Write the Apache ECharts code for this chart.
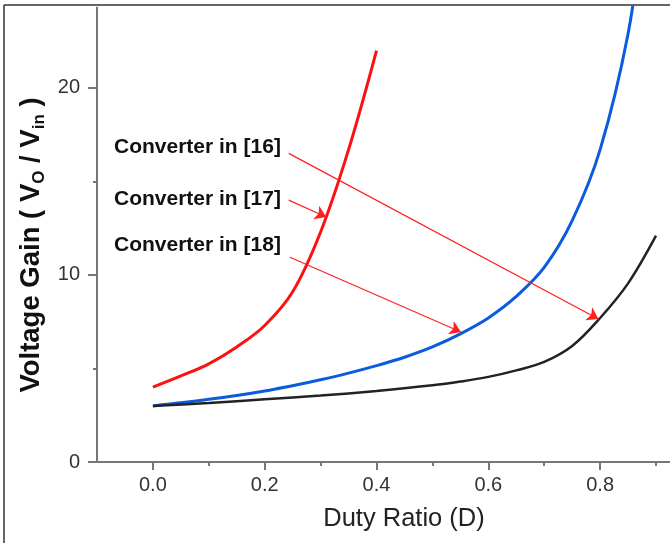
<!DOCTYPE html>
<html>
<head>
<meta charset="utf-8">
<script src="https://cdn.jsdelivr.net/npm/echarts@6/dist/echarts.min.js"></script>
<style>
  html, body { margin: 0; padding: 0; background: #fff; }
  #chart { width: 670px; height: 543px; }
</style>
</head>
<body>
<div id="chart"></div>
<script>
// curves
const dutyRed = [0, 0.05, 0.1, 0.15, 0.2, 0.25, 0.3, 0.35, 0.4];
const gainRed = [4.0, 4.6, 5.25, 6.15, 7.3, 9.1, 12.3, 16.7, 22.0];

const dutyBlue = [0, 0.1, 0.2, 0.3, 0.35, 0.4, 0.45, 0.5, 0.55, 0.6, 0.65, 0.7, 0.75, 0.8, 0.85, 0.875];
const gainBlue = [3.0, 3.35, 3.8, 4.4, 4.75, 5.15, 5.6, 6.15, 6.85, 7.7, 8.85, 10.4, 12.9, 16.7, 22.9, 28.3];

const dutyBlack = [0, 0.1, 0.2, 0.3, 0.4, 0.5, 0.55, 0.6, 0.65, 0.7, 0.75, 0.8, 0.85, 0.9];
const gainBlack = [3.0, 3.15, 3.35, 3.55, 3.8, 4.1, 4.3, 4.55, 4.9, 5.35, 6.2, 7.7, 9.55, 12.1];

// ticks
const xLabels = [0, 0.2, 0.4, 0.6, 0.8];
const xMinor = [0.1, 0.3, 0.5, 0.7, 0.9];
const yLabels = [0, 10, 20];
const yMinor = [5, 15];

// annotation texts and arrows (start -> end, data units)
const noteTexts = ["Converter in [16]", "Converter in [17]", "Converter in [18]"];
const noteStarts = [[0.243, 16.5], [0.243, 14.0], [0.245, 10.95]];
const noteEnds = [[0.797, 7.65], [0.31, 13.1], [0.551, 6.95]];

const font = "'Liberation Sans', Arial, sans-serif";
const xMin = -0.1, xMax = 0.925, yMin = 0, yMax = 24.3;

const chart = echarts.init(document.getElementById("chart"), null, { renderer: "canvas" });

const pairs = (xs, ys) => xs.map((x, i) => [x, ys[i]]);
const axisColor = "#777";

chart.setOption({
  animation: false,
  backgroundColor: "#fff",
  grid: { left: 97, right: 0, top: 7.5, bottom: 81 },
  xAxis: [
    {
      type: "value", min: xMin, max: xMax,
      axisLine: { onZero: false, lineStyle: { color: axisColor, width: 2 } },
      axisTick: { customValues: xLabels, length: 8, lineStyle: { color: axisColor, width: 2 } },
      axisLabel: {
        customValues: xLabels, margin: 13, fontFamily: font, fontSize: 20, color: "#333",
        formatter: (v) => v.toFixed(1),
      },
      splitLine: { show: false },
    },
    {
      type: "value", min: xMin, max: xMax, position: "bottom",
      axisLine: { show: false, onZero: false },
      axisTick: { customValues: xMinor, length: 4, lineStyle: { color: axisColor, width: 2 } },
      axisLabel: { show: false },
      splitLine: { show: false },
    },
  ],
  yAxis: [
    {
      type: "value", min: yMin, max: yMax,
      axisLine: { onZero: false, lineStyle: { color: axisColor, width: 2 } },
      axisTick: { customValues: yLabels, length: 9, lineStyle: { color: axisColor, width: 2 } },
      axisLabel: { customValues: yLabels, margin: 17, fontFamily: font, fontSize: 20, color: "#333" },
      splitLine: { show: false },
    },
    {
      type: "value", min: yMin, max: yMax, position: "left",
      axisLine: { show: false, onZero: false },
      axisTick: { customValues: yMinor, length: 4, lineStyle: { color: axisColor, width: 2 } },
      axisLabel: { show: false },
      splitLine: { show: false },
    },
  ],
  series: [
    {
      name: "Converter in [17]", type: "line", data: pairs(dutyRed, gainRed),
      smooth: 0.35, showSymbol: false, silent: true,
      lineStyle: { color: "#ff1010", width: 3 },
      markLine: {
        silent: true,
        symbol: ["none", "arrow"],
        symbolSize: 11,
        label: { show: false },
        lineStyle: { color: "#ff2020", width: 1.2, type: "solid" },
        data: noteStarts.map((s, i) => [{ coord: s }, { coord: noteEnds[i] }]),
      },
    },
    {
      name: "Converter in [18]", type: "line", data: pairs(dutyBlue, gainBlue),
      smooth: 0.35, showSymbol: false, silent: true,
      lineStyle: { color: "#0a5cdc", width: 3 },
    },
    {
      name: "Converter in [16]", type: "line", data: pairs(dutyBlack, gainBlack),
      smooth: 0.35, showSymbol: false, silent: true,
      lineStyle: { color: "#222", width: 2.5 },
    },
  ],
  graphic: [
    // image frame (left and top edges)
    { type: "line", shape: { x1: 4, y1: 5, x2: 4, y2: 543 }, style: { stroke: "#333", lineWidth: 1.5 } },
    { type: "line", shape: { x1: 4, y1: 5, x2: 670, y2: 5 }, style: { stroke: "#333", lineWidth: 1.5 } },
    // axis titles
    {
      type: "text", x: 404, y: 519,
      style: { text: "Duty Ratio (D)", font: "25.5px " + font, fill: "#222", align: "center", verticalAlign: "middle" },
    },
    {
      type: "text", x: 31, y: 245, rotation: Math.PI / 2,
      style: {
        text: "{b|Voltage Gain ( V}{s|O}{b| / V}{s|in}{b| )}",
        align: "center", verticalAlign: "middle",
        rich: {
          b: { fontFamily: font, fontSize: 27.5, fontWeight: "bold", fill: "#111", lineHeight: 29 },
          s: { fontFamily: font, fontSize: 17, fontWeight: "bold", fill: "#111", lineHeight: 17, padding: [16, 0, 0, 0] },
        },
      },
    },
    ...noteTexts.map((t, i) => ({
      type: "text", left: 114, top: [137, 189, 235][i],
      style: { text: t, font: "bold 21px " + font, fill: "#111" },
    })),
  ],
});
</script>
</body>
</html>
